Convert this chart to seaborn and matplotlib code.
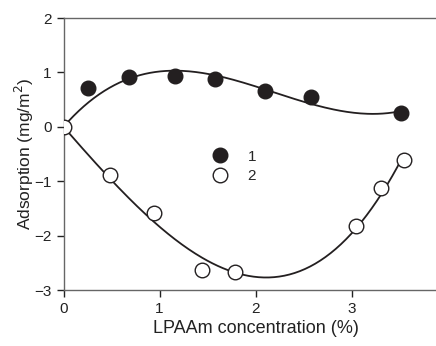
import numpy as np
import pandas as pd
import seaborn as sns
import matplotlib.pyplot as plt

# Values
conc_1 = [0.0, 0.26, 0.68, 1.16, 1.58, 2.10, 2.58, 3.52]
ads_1 = [0.0, 0.72, 0.92, 0.93, 0.87, 0.66, 0.54, 0.26]
conc_2 = [0.0, 0.48, 0.94, 1.44, 1.79, 3.05, 3.31, 3.55]
ads_2 = [0.0, -0.88, -1.58, -2.63, -2.67, -1.82, -1.12, -0.61]
series_names = ['1', '2']

sns.set_theme(style='ticks')
plt.rcParams['font.family'] = ['Liberation Sans', 'DejaVu Sans']

fig = plt.figure(figsize=(4.36, 3.46), dpi=100)
ax = fig.add_axes([63.5 / 436, 56 / 346, 384 / 436, 272 / 346])

dark = '#231f20'

# Smooth curves: cubic fit forced through the origin
for xs, ys in [(conc_1, ads_1), (conc_2, ads_2)]:
    xs = np.asarray(xs)
    A = np.column_stack([xs, xs**2, xs**3])
    c = np.linalg.lstsq(A, np.asarray(ys), rcond=None)[0]
    xf = np.linspace(0, xs.max(), 200)
    yf = c[0] * xf + c[1] * xf**2 + c[2] * xf**3
    sns.lineplot(x=xf, y=yf, ax=ax, color=dark, lw=1.3, zorder=2)

df1 = pd.DataFrame({'x': conc_1[1:], 'y': ads_1[1:]})
df2 = pd.DataFrame({'x': conc_2, 'y': ads_2})
ax.plot(df1['x'], df1['y'], 'o', ms=10.5, mfc=dark, mec=dark, label=series_names[0], zorder=3)
ax.plot(df2['x'], df2['y'], 'o', ms=10.5, mfc='white', mec=dark, mew=1.0, label=series_names[1], zorder=4)

ax.set_xlim(0, 4)
ax.set_ylim(-3, 2)
ax.set_xticks([0, 1, 2, 3])
ax.set_yticks([-3, -2, -1, 0, 1, 2])
ax.set_xlabel('LPAAm concentration (%)', fontsize=13, color='#222222', labelpad=3)
ax.set_ylabel('Adsorption (mg/m$^2$)', fontsize=12.5, color='#222222', labelpad=-1)
ax.tick_params(labelsize=11, colors='#222222', length=5, width=1)
for s in ['top', 'bottom', 'left', 'right']:
    ax.spines[s].set_color('#666666')
    ax.spines[s].set_linewidth(1)

ax.legend(loc='center', bbox_to_anchor=(0.445, 0.455), frameon=False, fontsize=11,
          handletextpad=1.3, labelspacing=0.35, handlelength=1)

fig.savefig('out.png', dpi=100)
